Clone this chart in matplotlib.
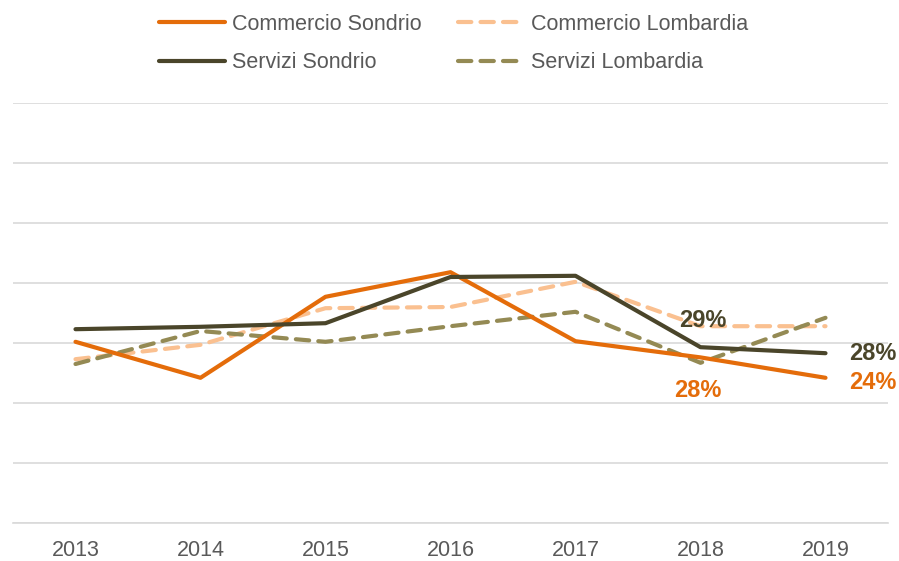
import matplotlib.pyplot as plt

plt.rcParams['font.family'] = ['Liberation Sans', 'DejaVu Sans']

# data (share, %)
years = ['2013', '2014', '2015', '2016', '2017', '2018', '2019']
commercio_sondrio = [30.2, 24.2, 37.7, 41.8, 30.3, 27.6, 24.2]
commercio_lombardia = [27.3, 29.7, 35.8, 36.0, 40.2, 32.8, 32.8]
servizi_sondrio = [32.3, 32.7, 33.3, 41.0, 41.2, 29.3, 28.3]
servizi_lombardia = [26.5, 32.0, 30.2, 32.8, 35.2, 26.7, 34.2]

c_orange = '#E46C0A'
c_light = '#FAC090'
c_dark = '#4A452A'
c_olive = '#948A54'
c_text = '#595959'

fig = plt.figure(figsize=(8.99, 5.61), dpi=100)
ax = fig.add_axes([13/899, 38/561, 875/899, 420/561])

x = range(len(years))
lw = 3.0
dash = (3.2, 2.2)
l_cs, = ax.plot(x, commercio_sondrio, color=c_orange, lw=lw, solid_capstyle='round',
                solid_joinstyle='round', label='Commercio Sondrio', zorder=3)
l_cl, = ax.plot(x, commercio_lombardia, color=c_light, lw=lw, dashes=dash,
                dash_capstyle='round', label='Commercio Lombardia', zorder=2)
l_ss, = ax.plot(x, servizi_sondrio, color=c_dark, lw=lw, solid_capstyle='round',
                solid_joinstyle='round', label='Servizi Sondrio', zorder=3)
l_sl, = ax.plot(x, servizi_lombardia, color=c_olive, lw=lw, dashes=dash,
                dash_capstyle='round', label='Servizi Lombardia', zorder=2)

# data labels
lab = dict(fontsize=17, fontweight='bold', ha='center', va='center')
ax.text(5.02, servizi_sondrio[5] + 4.5, '29%', color=c_dark, **lab)
ax.text(4.98, commercio_sondrio[5] - 5.5, '28%', color=c_orange, **lab)
ax.text(6.38, servizi_sondrio[6] + 0.0, '28%', color=c_dark, **lab)
ax.text(6.38, commercio_sondrio[6] - 0.8, '24%', color=c_orange, **lab)

ax.set_xlim(-0.5, 6.5)
ax.set_ylim(0, 70)
ax.set_yticks(range(0, 71, 10))
ax.set_yticklabels([])
ax.yaxis.grid(True, color='#D9D9D9', lw=1.2)
ax.set_axisbelow(True)
ax.tick_params(axis='y', length=0)
ax.set_xticks(list(x))
ax.set_xticklabels(years)
ax.tick_params(axis='x', length=0, labelsize=15.5, labelcolor=c_text, pad=12)
for s in ['top', 'left', 'right']:
    ax.spines[s].set_visible(False)
ax.spines['bottom'].set_color('#D9D9D9')
ax.spines['bottom'].set_linewidth(1.2)

# legend filled row by row: Commercio on top, Servizi below
fig.legend([l_cs, l_ss, l_cl, l_sl],
           ['Commercio Sondrio', 'Servizi Sondrio', 'Commercio Lombardia', 'Servizi Lombardia'],
           loc='upper left', bbox_to_anchor=(150/899, 1 - 5/561), ncol=2,
           frameon=False, fontsize=15.5, labelcolor=c_text,
           handlelength=3.1, handletextpad=0.3, columnspacing=1.7,
           labelspacing=0.83, borderaxespad=0)

fig.savefig('out.png', dpi=100)
